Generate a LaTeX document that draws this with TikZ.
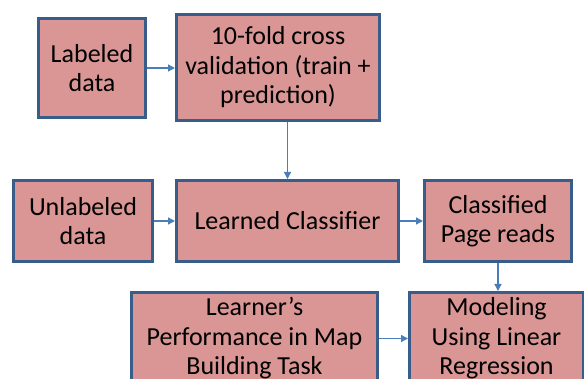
\documentclass[tikz,border=0pt]{standalone}
\usepackage{fontspec}
\setmainfont{Carlito}
\usetikzlibrary{arrows.meta}
\definecolor{boxfill}{RGB}{217,150,148}
\definecolor{boxline}{RGB}{56,93,138}
\definecolor{arrowcol}{RGB}{74,126,187}
\tikzset{
  box/.style={draw=boxline, fill=boxfill, line width=3pt, anchor=north west,
    align=center, inner sep=0pt, font=\fontsize{26}{29.5}\selectfont},
  conn/.style={draw=arrowcol, line width=1.3pt, -{Triangle[length=7pt,width=7pt]}}
}
\begin{document}
\begin{tikzpicture}[x=1pt,y=-1pt]
\useasboundingbox (0,0) rectangle (584,379);
\clip (0,0) rectangle (584,379);
\node[box, minimum width=107pt, minimum height=99pt] (lab) at (37,17) {Labeled\\data};
\node[box, minimum width=203pt, minimum height=106pt] (cv) at (175,13) {10-fold cross\\validation (train +\\prediction)};
\node[box, minimum width=139pt, minimum height=81pt] (unl) at (12,179) {Unlabeled\\data};
\node[box, minimum width=222pt, minimum height=81pt] (lc) at (175,179) {Learned Classifier};
\node[box, minimum width=147pt, minimum height=81pt] (cpr) at (423,179) {Classified\\Page reads};
\node[box, minimum width=246pt, minimum height=92pt] (lp) at (130,291) {Learner’s\\Performance in Map\\Building Task};
\node[box, minimum width=174pt, minimum height=92pt] (mod) at (408,291) {Modeling\\Using Linear\\Regression};
\draw[conn] (lab.east) -- (cv.west |- lab.east);
\draw[conn] (lc.north |- cv.south) -- (lc.north);
\draw[conn] (unl.east) -- (lc.west |- unl.east);
\draw[conn] (lc.east) -- (cpr.west |- lc.east);
\draw[conn] (cpr.south) -- (cpr.south |- mod.north);
\draw[conn] (lp.east) -- (mod.west |- lp.east);
\end{tikzpicture}
\end{document}
